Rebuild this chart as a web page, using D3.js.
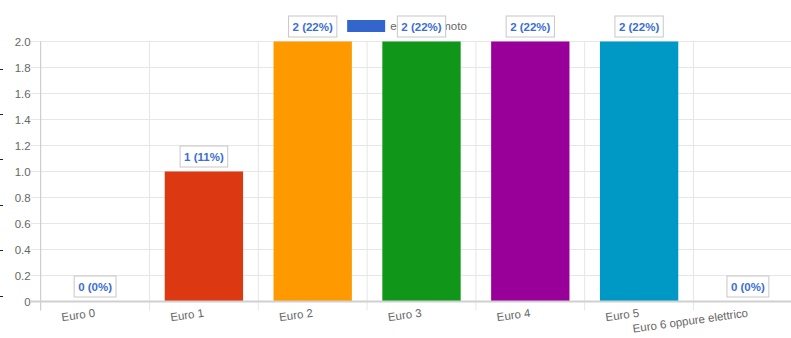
<!DOCTYPE html>
<html><head><meta charset="utf-8">
<script src="https://cdn.jsdelivr.net/npm/d3@7"></script>
<style>
html,body{margin:0;padding:0;background:#fff;overflow:hidden}
svg{display:block;font-family:"Liberation Sans",Arial,Helvetica,sans-serif}
</style></head>
<body>
<script>
const categories = ["Euro 0","Euro 1","Euro 2","Euro 3","Euro 4","Euro 5","Euro 6 oppure elettrico"];
const values = [0,1,2,2,2,2,0];
const colors = ["#3366cc","#dc3912","#ff9900","#109618","#990099","#0099c6","#dd4477"];
const yTicks = [0,0.2,0.4,0.6,0.8,1.0,1.2,1.4,1.6,1.8,2.0];
const seriesName = "emissioni moto";
const edgeTicks = [0,1,2,3,4,5];

(function(){
const W = 791, H = 338, chartW = 814;
const svg = d3.select("body").append("svg").attr("width", W).attr("height", H);

const pLeft = 40.7, pRight = 802.3, pTop = 41.5, pBottom = 301.5;
const x = d3.scaleBand().domain(categories).range([pLeft, pRight]).paddingInner(0.28).paddingOuter(0.14);
const step = x.step();
const y = d3.scaleLinear().domain([0, 2]).range([pBottom, pTop]);

// stray edge ticks at far left
const e = d3.scaleLinear().domain([0,5]).range([68.5, 295.5]);
svg.append("g").selectAll("line").data(edgeTicks).join("line")
  .attr("x1",0).attr("x2",3).attr("y1",d=>Math.round(e(d))+0.5).attr("y2",d=>Math.round(e(d))+0.5)
  .attr("stroke","#222").attr("stroke-width",1);

// horizontal gridlines
svg.append("g").selectAll("line").data(yTicks.filter(d=>d!==0)).join("line")
  .attr("x1", pLeft-10).attr("x2", pRight)
  .attr("y1", d=>y(d)).attr("y2", d=>y(d))
  .attr("stroke","#e6e6e6").attr("stroke-width",1);

// vertical gridlines at category boundaries
const bounds = d3.range(categories.length+1).map(i=>pLeft + i*step);
svg.append("g").selectAll("line").data(bounds).join("line")
  .attr("x1", d=>d).attr("x2", d=>d)
  .attr("y1", pTop).attr("y2", pBottom+9)
  .attr("stroke", (d,i)=> i===0 ? "#c4c4c4" : "#e6e6e6").attr("stroke-width",1);

// y axis labels
const yAxis = d3.axisLeft(y).tickValues(yTicks).tickSize(0).tickPadding(10)
  .tickFormat(d => d===0 ? "0" : d3.format(".1f")(d));
const ga = svg.append("g").attr("transform",`translate(${pLeft},0)`).call(yAxis);
ga.select(".domain").remove();
ga.selectAll("text").attr("fill","#666").style("font-size","11.5px").style("font-family","'Liberation Sans',Arial,sans-serif");

// bars
svg.append("g").selectAll("rect").data(values).join("rect")
  .attr("x",(d,i)=>x(categories[i])).attr("width",x.bandwidth())
  .attr("y",d=>y(d)).attr("height",d=>y(0)-y(d))
  .attr("fill",(d,i)=>colors[i]);

// zero line
svg.append("line").attr("x1",pLeft-10).attr("x2",pRight).attr("y1",pBottom).attr("y2",pBottom)
  .attr("stroke","#d0d0d0").attr("stroke-width",2);

// x labels
svg.append("g").selectAll("text").data(categories).join("text")
  .attr("transform", d=>`translate(${x(d)+x.bandwidth()/2},${pBottom+11}) rotate(-8)`)
  .attr("text-anchor","end").attr("dy","0.35em")
  .attr("fill","#666").style("font-size","11.5px")
  .text(d=>d);

// legend
const legendBoxW = 38, legendGap = 5;
const lg = svg.append("g");
const lt = lg.append("text").attr("fill","#666").style("font-size","11.5px").attr("dy","0.35em").text(seriesName);
const tw = lt.node().getComputedTextLength();
const lx = chartW/2 - (legendBoxW + legendGap + tw)/2;
lg.insert("rect","text").attr("x",lx).attr("y",20).attr("width",legendBoxW).attr("height",12).attr("fill",colors[0]);
lt.attr("x", lx+legendBoxW+legendGap).attr("y", 26);

// data labels
const total = d3.sum(values);
const dl = svg.append("g").selectAll("g").data(values).join("g");
dl.each(function(d,i){
  const g = d3.select(this);
  const cx = x(categories[i]) + x.bandwidth()/2;
  const txt = `${d} (${Math.round(d/total*100)}%)`;
  const t = g.append("text").attr("x",cx).attr("text-anchor","middle")
    .attr("fill","#3b6ed4").style("font-size","11.5px").style("font-weight","bold").text(txt);
  const w = t.node().getComputedTextLength() + 8;
  const yb = y(d) - 4.5, h = 21;
  g.insert("rect","text").attr("x",cx-w/2).attr("y",yb-h).attr("width",w).attr("height",h)
    .attr("fill","#fff").attr("stroke","#c8c8c8").attr("stroke-width",1);
  t.attr("y", yb - h/2).attr("dy","0.35em");
});
})();
</script>
</body></html>
